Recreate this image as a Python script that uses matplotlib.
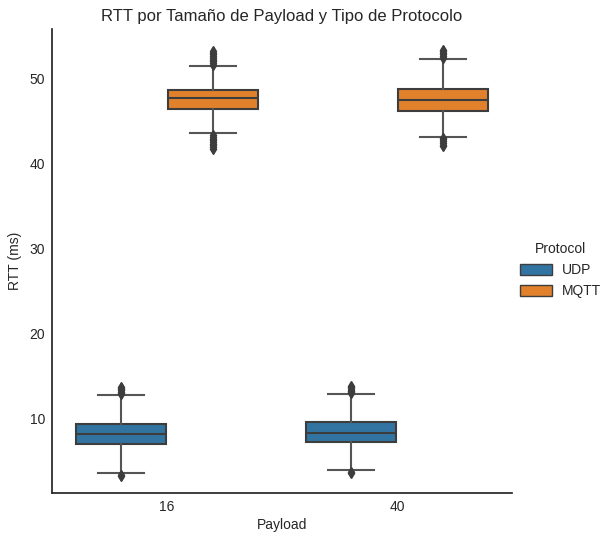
import matplotlib
matplotlib.use("Agg")
import matplotlib.pyplot as plt
from matplotlib.patches import Patch

plt.rcParams['font.family'] = ['Liberation Sans', 'DejaVu Sans']

payloads = ["16", "40"]
protocols = ["UDP", "MQTT"]
colors = {"UDP": "#3274a1", "MQTT": "#e1812c"}

# box stats per (payload, protocol): q1, median, q3, whisker low, whisker high
q1 = {"UDP": [6.98, 7.14], "MQTT": [46.4, 46.2]}
med = {"UDP": [8.15, 8.27], "MQTT": [47.7, 47.5]}
q3 = {"UDP": [9.33, 9.53], "MQTT": [48.6, 48.75]}
wlo = {"UDP": [3.57, 3.92], "MQTT": [43.5, 43.1]}
whi = {"UDP": [12.67, 12.8], "MQTT": [51.5, 52.3]}
fliers = {
    "UDP": [
        [12.8, 12.95, 13.1, 13.25, 13.4, 13.55, 13.7, 3.35, 3.2],
        [12.9, 13.05, 13.2, 13.35, 13.5, 13.65, 13.8, 3.6, 3.5],
    ],
    "MQTT": [
        [51.6, 51.8, 52.0, 52.2, 52.4, 52.6, 52.8, 53.0, 53.2,
         43.3, 43.1, 42.9, 42.7, 42.5, 42.3, 42.1, 41.9, 41.7],
        [52.4, 52.6, 52.8, 53.0, 53.2, 53.35,
         43.0, 42.8, 42.6, 42.4, 42.2, 42.05],
    ],
}

gray = "#3d3d3d"
text_c = "#262626"

fig = plt.figure(figsize=(6.02, 5.34), dpi=100)
ax = fig.add_axes([52 / 602, 41 / 534, 460 / 602, 464 / 534])

offsets = {"UDP": -0.2, "MQTT": 0.2}
for proto in protocols:
    stats = []
    for i in range(len(payloads)):
        stats.append(dict(q1=q1[proto][i], med=med[proto][i], q3=q3[proto][i],
                          whislo=wlo[proto][i], whishi=whi[proto][i],
                          fliers=fliers[proto][i]))
    pos = [i + offsets[proto] for i in range(len(payloads))]
    ax.bxp(stats, positions=pos, widths=0.392, patch_artist=True,
           showfliers=True, manage_ticks=False,
           boxprops=dict(facecolor=colors[proto], edgecolor=gray, linewidth=1.5),
           medianprops=dict(color=gray, linewidth=1.5),
           whiskerprops=dict(color="#555555", linewidth=1.5),
           capprops=dict(color="#555555", linewidth=1.5),
           flierprops=dict(marker="d", markerfacecolor=gray, markeredgecolor=gray,
                           markersize=5, linestyle="none"))

ax.set_xlim(-0.5, 1.5)
ax.set_ylim(1.18, 55.8)
ax.set_xticks(range(len(payloads)))
ax.set_xticklabels(payloads)
ax.set_yticks([10, 20, 30, 40, 50])
ax.tick_params(colors=text_c, labelsize=10, length=0, pad=5)
for s in ["top", "right"]:
    ax.spines[s].set_visible(False)
for s in ["left", "bottom"]:
    ax.spines[s].set_color(text_c)
    ax.spines[s].set_linewidth(1.25)
ax.set_xlabel("Payload", fontsize=10, color=text_c, labelpad=3)
ax.set_ylabel("RTT (ms)", fontsize=10, color=text_c, labelpad=5)
ax.set_title("RTT por Tamaño de Payload y Tipo de Protocolo", fontsize=12, color=text_c)

handles = [Patch(facecolor=colors[p], edgecolor=gray, linewidth=1.0, label=p) for p in protocols]
leg = fig.legend(handles=handles, title="Protocol", loc="center left",
                 bbox_to_anchor=(0.843, 0.494), frameon=False, fontsize=10,
                 title_fontsize=10, handlelength=2.3, handleheight=0.8,
                 handletextpad=0.7)
for t in leg.get_texts():
    t.set_color(text_c)
leg.get_title().set_color(text_c)

fig.savefig("out.png", dpi=100)
